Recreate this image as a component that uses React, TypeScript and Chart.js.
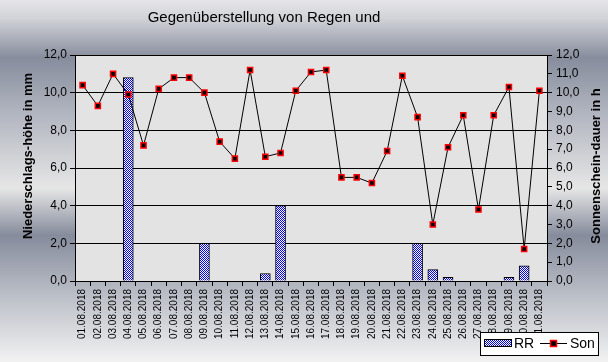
import React, { useEffect, useRef } from 'react';
import { Chart, registerables } from 'chart.js';

Chart.register(...registerables);

const dates = [
  '01.08.2018', '02.08.2018', '03.08.2018', '04.08.2018', '05.08.2018', '06.08.2018', '07.08.2018',
  '08.08.2018', '09.08.2018', '10.08.2018', '11.08.2018', '12.08.2018', '13.08.2018', '14.08.2018',
  '15.08.2018', '16.08.2018', '17.08.2018', '18.08.2018', '19.08.2018', '20.08.2018', '21.08.2018',
  '22.08.2018', '23.08.2018', '24.08.2018', '25.08.2018', '26.08.2018', '27.08.2018', '28.08.2018',
  '29.08.2018', '30.08.2018', '31.08.2018',
];

const rainMm = [
  null, null, null, 10.8, null, null, null, null, 2.0, null, null, null, 0.4, 4.0, null, null,
  null, null, null, null, null, null, 2.0, 0.6, 0.2, null, null, null, 0.2, 0.8, null,
];

const sunHours = [
  10.4, 9.3, 11.0, 9.9, 7.2, 10.2, 10.8, 10.8, 10.0, 7.4, 6.5, 11.2, 6.6, 6.8, 10.1, 11.1,
  11.2, 5.5, 5.5, 5.2, 6.9, 10.9, 8.7, 3.0, 7.1, 8.8, 3.8, 8.8, 10.3, 1.7, 10.1,
];

const chartTitle = 'Gegenüberstellung von Regen und';
const leftAxisTitle = 'Niederschlags-höhe in mm';
const rightAxisTitle = 'Sonnenschein-dauer in h';
const seriesNames = ['RR', 'Son'];
const axisMin = 0;
const axisMax = 12;
const leftStep = 2;
const rightStep = 1;

const FONT = '"Liberation Sans", Arial, sans-serif';

function makePattern(): CanvasPattern | string {
  const c = document.createElement('canvas');
  c.width = 2;
  c.height = 2;
  const x = c.getContext('2d');
  if (!x) return '#8080ff';
  x.fillStyle = '#ffffff';
  x.fillRect(0, 0, 2, 2);
  x.fillStyle = '#0000ff';
  x.fillRect(0, 0, 1, 1);
  x.fillRect(1, 1, 1, 1);
  const p = x.createPattern(c, 'repeat');
  return p || '#8080ff';
}

const fmt = (v: number | string) => Number(v).toFixed(1).replace('.', ',');

export default function App() {
  const ref = useRef<HTMLCanvasElement>(null);

  useEffect(() => {
    document.body.style.margin = '0';
    const canvas = ref.current;
    if (!canvas) return;
    const pattern = makePattern();

    const decor = {
      id: 'decor',
      beforeDraw(chart: any) {
        const { ctx, width, height, chartArea: a } = chart;
        ctx.save();
        const g = ctx.createLinearGradient(0, 0, 0, height);
        g.addColorStop(0, '#e6e6e8');
        g.addColorStop(0.05, '#d2d3d8');
        g.addColorStop(0.16, '#878d9d');
        g.addColorStop(0.3, '#aeb2bd');
        g.addColorStop(0.52, '#e6e6e6');
        g.addColorStop(0.65, '#868c9c');
        g.addColorStop(0.8, '#b6bac3');
        g.addColorStop(1, '#f2f2f2');
        ctx.fillStyle = g;
        ctx.fillRect(0, 0, width, height);
        ctx.fillStyle = '#e3e3e3';
        ctx.fillRect(a.left, a.top, a.right - a.left, a.bottom - a.top);
        ctx.restore();
      },
      afterDraw(chart: any) {
        const { ctx, chartArea: a } = chart;
        ctx.save();
        // top border
        ctx.strokeStyle = '#000';
        ctx.lineWidth = 1;
        ctx.beginPath();
        ctx.moveTo(a.left, Math.round(a.top) + 0.5);
        ctx.lineTo(a.right, Math.round(a.top) + 0.5);
        ctx.stroke();

        // main title
        ctx.fillStyle = '#000';
        ctx.textAlign = 'center';
        ctx.textBaseline = 'middle';
        ctx.font = `15px ${FONT}`;
        ctx.fillText(chartTitle, 264, 18);

        // axis titles
        ctx.font = `bold 13px ${FONT}`;
        ctx.save();
        ctx.translate(28, 156);
        ctx.rotate(-Math.PI / 2);
        ctx.fillText(leftAxisTitle, 0, 0);
        ctx.restore();
        ctx.save();
        ctx.translate(596, 166);
        ctx.rotate(-Math.PI / 2);
        ctx.fillText(rightAxisTitle, 0, 0);
        ctx.restore();

        // legend
        ctx.fillStyle = '#ffffff';
        ctx.fillRect(480.5, 332.5, 118, 23);
        ctx.strokeStyle = '#000';
        ctx.strokeRect(480.5, 332.5, 118, 23);
        ctx.fillStyle = pattern as any;
        ctx.fillRect(484, 339, 28, 8);
        ctx.strokeRect(484.5, 339.5, 27, 7);
        ctx.fillStyle = '#000';
        ctx.textAlign = 'left';
        ctx.font = `14px ${FONT}`;
        ctx.fillText(seriesNames[0], 514, 344);
        ctx.beginPath();
        ctx.moveTo(540, 343.5);
        ctx.lineTo(567, 343.5);
        ctx.stroke();
        ctx.fillStyle = '#000';
        ctx.fillRect(551, 341, 5, 5);
        ctx.strokeStyle = '#ff0000';
        ctx.lineWidth = 1.5;
        ctx.strokeRect(550.5, 340.5, 6, 6);
        ctx.fillStyle = '#000';
        ctx.fillText(seriesNames[1], 570, 344);
        ctx.restore();
      },
    };

    const chart = new Chart(canvas, {
      type: 'bar',
      data: {
        labels: dates,
        datasets: [
          {
            type: 'line',
            label: seriesNames[1],
            data: sunHours,
            yAxisID: 'y1',
            borderColor: '#000',
            borderWidth: 1,
            tension: 0,
            pointStyle: 'rect',
            pointRadius: 3.6,
            pointBackgroundColor: '#000',
            pointBorderColor: '#ff0000',
            pointBorderWidth: 1.5,
            order: 0,
          } as any,
          {
            type: 'bar',
            label: seriesNames[0],
            data: rainMm,
            yAxisID: 'y',
            backgroundColor: pattern as any,
            borderColor: '#000',
            borderWidth: 1,
            barThickness: 10,
            order: 1,
          } as any,
        ],
      },
      options: {
        responsive: false,
        animation: false,
        layout: { padding: { top: 55, left: 0, right: 0, bottom: 0 } },
        plugins: {
          legend: { display: false },
          title: { display: false },
          tooltip: { enabled: false },
        },
        scales: {
          x: {
            offset: true,
            grid: {
              drawOnChartArea: false,
              drawTicks: true,
              tickLength: 5,
              color: '#000',
              offset: true,
            },
            border: { color: '#000', width: 1 },
            ticks: {
              autoSkip: false,
              minRotation: 90,
              maxRotation: 90,
              padding: 3,
              color: '#000',
              font: { family: '"Liberation Sans Narrow", "Arial Narrow", ' + FONT, size: 10 },
            },
            afterFit(scale: any) {
              scale.height = 81;
            },
          },
          y: {
            position: 'left',
            min: axisMin,
            max: axisMax,
            ticks: {
              stepSize: leftStep,
              callback: (v: any) => fmt(v),
              color: '#000',
              padding: 3,
              font: { family: FONT, size: 12 },
            },
            grid: { color: '#000', lineWidth: 1, tickLength: 5 },
            border: { color: '#000', width: 1 },
            afterFit(scale: any) {
              scale.width = 75;
            },
          },
          y1: {
            position: 'right',
            min: axisMin,
            max: axisMax,
            ticks: {
              stepSize: rightStep,
              callback: (v: any) => fmt(v),
              color: '#000',
              padding: 4,
              font: { family: FONT, size: 12 },
            },
            grid: { drawOnChartArea: false, color: '#000', tickLength: 5 },
            border: { color: '#000', width: 1 },
            afterFit(scale: any) {
              scale.width = 61;
            },
          },
        },
      } as any,
      plugins: [decor],
    });

    return () => chart.destroy();
  }, []);

  return (
    <div style={{ width: 608, height: 362 }}>
      <canvas ref={ref} width={608} height={362} style={{ display: 'block' }} />
    </div>
  );
}
